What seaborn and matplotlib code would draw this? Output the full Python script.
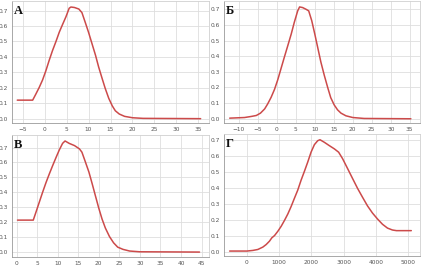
import numpy as np
import pandas as pd
import matplotlib
matplotlib.use("Agg")
import matplotlib.pyplot as plt
import seaborn as sns

# Panel А
a_x = [-6.2, -2.7, -2.0, -1.2, -0.46, 0.3, 1.06, 1.8, 2.6, 3.35, 4.1, 4.87, 5.6, 6.0, 6.8, 7.8, 8.5,
       9.3, 10.0, 10.8, 11.6, 12.3, 13.1, 13.8, 14.6, 15.4, 16.1, 17.0, 18.2, 20.0, 22.4, 35.5]
a_y = [0.12, 0.12, 0.158, 0.203, 0.25, 0.31, 0.378, 0.44, 0.50, 0.56, 0.61, 0.66, 0.715, 0.723, 0.72, 0.71, 0.687,
       0.62, 0.56, 0.485, 0.41, 0.335, 0.26, 0.196, 0.132, 0.083, 0.051, 0.03, 0.015, 0.006, 0.002, 0.0]
# Panel Б
b_x = [-12.4, -8.5, -6.7, -5.4, -4.3, -3.2, -2.4, -1.5, -0.6, 0.26, 1.1, 2.0, 2.9, 3.8, 4.6, 5.5, 6.0, 6.8, 7.7, 8.4,
       9.2, 10.0, 10.75, 11.6, 12.5, 13.4, 14.2, 15.1, 16.0, 16.9, 18.2, 20.0, 23.0, 35.3]
b_y = [0.004, 0.008, 0.015, 0.021, 0.036, 0.063, 0.095, 0.137, 0.188, 0.25, 0.32, 0.395, 0.468, 0.542, 0.616, 0.69, 0.715, 0.711, 0.70, 0.69,
       0.627, 0.542, 0.458, 0.363, 0.278, 0.20, 0.135, 0.089, 0.057, 0.036, 0.019, 0.008, 0.002, 0.0]
# Panel В
c_x = [0.24, 4.07, 4.7, 5.5, 6.3, 7.15, 7.97, 8.8, 9.6, 10.4, 11.2, 11.8, 12.8, 14.1, 15.3, 15.9, 16.7, 17.6, 18.4,
       19.2, 20.0, 20.8, 21.6, 22.6, 23.6, 24.6, 25.9, 27.5, 29.9, 44.5]
c_y = [0.214, 0.214, 0.265, 0.331, 0.397, 0.464, 0.523, 0.58, 0.633, 0.684, 0.728, 0.744, 0.728, 0.713, 0.691, 0.669, 0.607, 0.536, 0.457,
       0.375, 0.294, 0.221, 0.161, 0.104, 0.062, 0.033, 0.018, 0.007, 0.002, 0.0]
# Panel Г
d_x = [-536, 0, 186, 340, 495, 598, 700, 773, 856, 959, 1062, 1165, 1268, 1371, 1474, 1577, 1680, 1784, 1887, 1990,
       2093, 2196, 2268, 2402, 2557, 2711, 2845, 2969, 3124, 3278, 3433, 3588, 3742, 3897, 4052, 4206, 4361, 4515, 4640, 5100]
d_y = [0.004, 0.004, 0.008, 0.014, 0.029, 0.045, 0.066, 0.087, 0.101, 0.128, 0.159, 0.196, 0.236, 0.283, 0.335, 0.386, 0.448, 0.504, 0.562, 0.624,
       0.671, 0.696, 0.702, 0.686, 0.665, 0.645, 0.624, 0.583, 0.521, 0.459, 0.397, 0.341, 0.287, 0.242, 0.205, 0.172, 0.148, 0.136, 0.132, 0.132]

labels = ["А", "Б", "В", "Г"]
yticks = [0.0, 0.1, 0.2, 0.3, 0.4, 0.5, 0.6, 0.7]
xticks_a = [-5, 0, 5, 10, 15, 20, 25, 30, 35]
xticks_b = [-10, -5, 0, 5, 10, 15, 20, 25, 30, 35]
xticks_c = [0, 5, 10, 15, 20, 25, 30, 35, 40, 45]
xticks_d = [0, 1000, 2000, 3000, 4000, 5000]

sns.set_theme(style="whitegrid")
plt.rcParams['font.family'] = ['DejaVu Sans']

W, H = 422, 268
fig = plt.figure(figsize=(W / 100, H / 100), dpi=100)
fig.patch.set_facecolor("white")

def px_axes(l, r, t, b):
    return fig.add_axes([l / W, 1 - b / H, (r - l) / W, (b - t) / H])

panels = [
    (a_x, a_y, (12, 209, 1, 123), (-7.4, 37.4), (-0.028, 0.762), xticks_a),
    (b_x, b_y, (224, 420, 1, 123), (-13.9, 37.7), (-0.027, 0.753), xticks_b),
    (c_x, c_y, (12, 209, 135, 257), (-1.1, 46.8), (-0.033, 0.784), xticks_c),
    (d_x, d_y, (224, 420, 134, 256), (-711, 5370), (-0.027, 0.738), xticks_d),
]

for (xs, ys, box, xl, yl, xt), lab in zip(panels, labels):
    ax = px_axes(*box)
    df = pd.DataFrame({"x": xs, "y": ys})
    sns.lineplot(data=df, x="x", y="y", ax=ax, color="#cc4a4a", linewidth=1.1, sort=False)
    ax.set_xlim(*xl)
    ax.set_ylim(*yl)
    ax.set_xticks(xt)
    ax.set_yticks(yticks)
    ax.set_yticklabels([f"{v:.1f}" for v in yticks])
    ax.set_xlabel("")
    ax.set_ylabel("")
    ax.set_facecolor("white")
    ax.grid(True, color="#dedede", linewidth=0.6)
    ax.tick_params(axis="both", labelsize=4.2, colors="#555555", length=1.5, pad=1.5, width=0.5)
    for side, sp in ax.spines.items():
        sp.set_visible(True)
        sp.set_linewidth(0.6)
        sp.set_color("#9a9a9a" if side in ("left", "bottom") else "#d0d0d0")
    ax.text(0.01, 0.97, lab, transform=ax.transAxes, ha="left", va="top",
            fontsize=9, fontweight="bold", family=["Liberation Serif", "DejaVu Serif"], color="#111111")

fig.savefig("out.png", dpi=100, facecolor="white")
